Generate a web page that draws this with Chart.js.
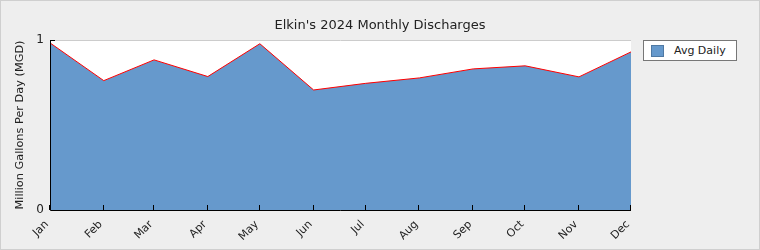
<!DOCTYPE html>
<html>
<head>
<meta charset="utf-8">
<script src="https://cdn.jsdelivr.net/npm/chart.js@4"></script>
<style>
  html, body { margin: 0; padding: 0; background: #eeeeee; }
  #wrap { position: relative; width: 760px; height: 250px; }
  #legend {
    position: absolute; left: 643px; top: 40px; width: 92px; height: 19px;
    background: #fff; border: 1px solid #777;
    font: 11px "DejaVu Sans", sans-serif; color: #222;
  }
  #legend .sw {
    position: absolute; left: 7px; top: 4px; width: 11px; height: 10px;
    background: #6699cc; border: 1px solid #4f79a3;
  }
  #legend .lbl { position: absolute; left: 30px; top: 3px; }
</style>
</head>
<body>
<div id="wrap">
  <canvas id="chart" width="760" height="250"></canvas>
  <div id="legend"><span class="sw"></span><span class="lbl">Avg Daily</span></div>
</div>
<script>
//---------------------------------------------
// DATA
//---------------------------------------------
const chartTitle = "Elkin's 2024 Monthly Discharges";
const months = ["Jan", "Feb", "Mar", "Apr", "May", "Jun", "Jul", "Aug", "Sep", "Oct", "Nov", "Dec"];
// day of year (2024) for the 1st of each month
const monthDays = [0, 31, 60, 91, 121, 152, 182, 213, 244, 274, 305, 335];
const avgDaily = [0.983, 0.761, 0.883, 0.785, 0.978, 0.706, 0.745, 0.777, 0.830, 0.848, 0.783, 0.930];

//---------------------------------------------
// PLUGIN: title, plot background, axes, inward ticks, frame
//---------------------------------------------
const framePlugin = {
    id: "frame",
    beforeDraw(chart) {
        const { ctx, chartArea: a } = chart;
        ctx.save();
        ctx.fillStyle = "#ffffff";
        ctx.fillRect(a.left, a.top, a.right - a.left, a.bottom - a.top);
        // title centered on the whole canvas
        ctx.fillStyle = "#222";
        ctx.font = "13px 'DejaVu Sans'";
        ctx.textAlign = "center";
        ctx.textBaseline = "alphabetic";
        ctx.fillText(chartTitle, chart.width / 2, 29);
        ctx.restore();
    },
    afterDatasetsDraw(chart) {
        const { ctx, chartArea: a, scales } = chart;
        ctx.save();
        ctx.lineWidth = 1;
        // top gray line
        ctx.strokeStyle = "#cccccc";
        ctx.beginPath();
        ctx.moveTo(a.left, Math.round(a.top) + 0.5);
        ctx.lineTo(a.right, Math.round(a.top) + 0.5);
        ctx.stroke();
        // left + bottom axis
        ctx.strokeStyle = "#000000";
        ctx.beginPath();
        ctx.moveTo(Math.round(a.left) + 0.5, a.top);
        ctx.lineTo(Math.round(a.left) + 0.5, Math.round(a.bottom) + 0.5);
        ctx.lineTo(a.right, Math.round(a.bottom) + 0.5);
        ctx.stroke();
        // x ticks pointing inward
        ctx.beginPath();
        monthDays.forEach(d => {
            const x = Math.round(scales.x.getPixelForValue(d)) - 0.5;
            ctx.moveTo(x, a.bottom);
            ctx.lineTo(x, a.bottom - 5);
        });
        // y tick at 1
        const y1 = Math.round(scales.y.getPixelForValue(1)) + 0.5;
        ctx.moveTo(a.left, y1);
        ctx.lineTo(a.left + 5, y1);
        ctx.stroke();
        // outer frame
        ctx.strokeStyle = "#cfcfcf";
        ctx.strokeRect(0.5, 0.5, chart.width - 1, chart.height - 1);
        ctx.restore();
    }
};

//---------------------------------------------
// CHART
//---------------------------------------------
const ctx = document.getElementById("chart").getContext("2d");
new Chart(ctx, {
    type: "line",
    data: {
        datasets: [{
            label: "Avg Daily",
            data: monthDays.map((d, i) => ({ x: d, y: avgDaily[i] })),
            borderColor: "#ff0000",
            borderWidth: 1,
            backgroundColor: "#6699cc",
            fill: "origin",
            pointRadius: 0,
            tension: 0
        }]
    },
    options: {
        responsive: false,
        animation: false,
        layout: { padding: { left: 0, right: 129, top: 40, bottom: 0 } },
        plugins: {
            legend: { display: false },
            tooltip: { enabled: false },
            title: { display: false }
        },
        scales: {
            x: {
                type: "linear",
                min: 0,
                max: 335,
                grid: { display: false, drawTicks: false },
                border: { display: false },
                afterBuildTicks: s => { s.ticks = monthDays.map(v => ({ value: v })); },
                afterFit: s => { s.height = 40; },
                ticks: {
                    autoSkip: false,
                    minRotation: 45,
                    maxRotation: 45,
                    padding: 8,
                    labelOffset: -3,
                    color: "#222",
                    font: { family: "DejaVu Sans", size: 11 },
                    callback: v => months[monthDays.indexOf(v)]
                }
            },
            y: {
                min: 0,
                max: 1,
                grid: { display: false, drawTicks: false },
                border: { display: false },
                afterBuildTicks: s => { s.ticks = [{ value: 0 }, { value: 1 }]; },
                afterFit: s => { s.width = 50; },
                ticks: {
                    padding: 6,
                    color: "#222",
                    font: { family: "DejaVu Sans", size: 12 }
                },
                title: {
                    display: true,
                    text: "Million Gallons Per Day (MGD)",
                    color: "#222",
                    font: { family: "DejaVu Sans", size: 11.3 },
                    padding: { top: 13, bottom: 4 }
                }
            }
        }
    },
    plugins: [framePlugin]
});
</script>
</body>
</html>
